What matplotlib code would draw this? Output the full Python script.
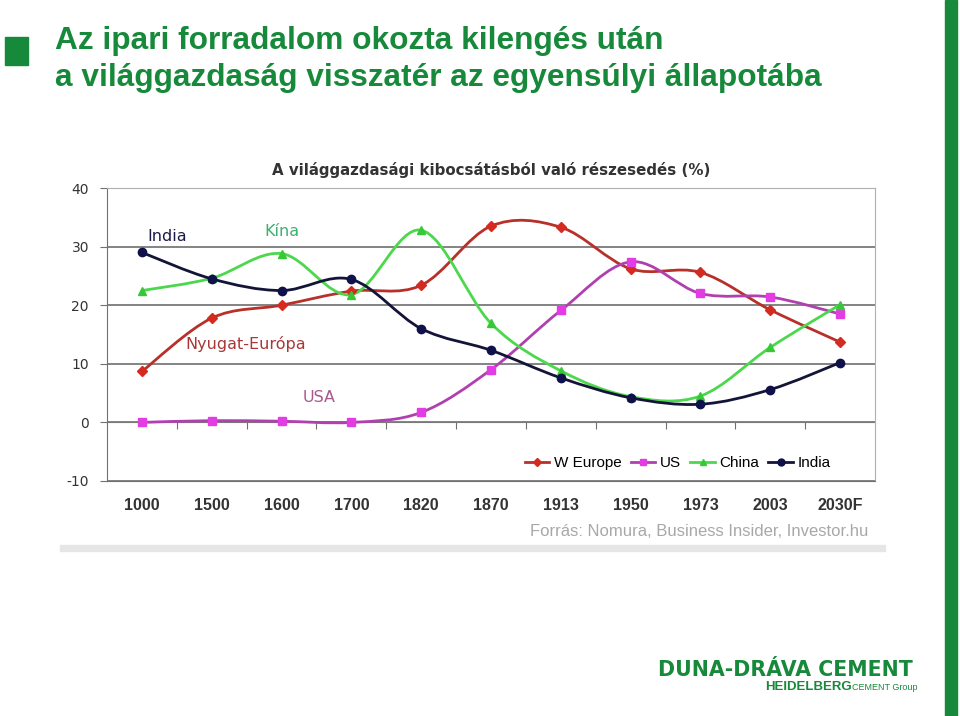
import numpy as np
import matplotlib.pyplot as plt
from matplotlib.path import Path
from matplotlib.patches import PathPatch, Rectangle
from matplotlib.lines import Line2D

plt.rcParams['axes.unicode_minus'] = False

years = ['1000', '1500', '1600', '1700', '1820', '1870', '1913', '1950', '1973', '2003', '2030F']
w_europe = [8.7, 17.8, 20.0, 22.4, 23.4, 33.5, 33.3, 26.2, 25.6, 19.2, 13.7]
us = [0.0, 0.3, 0.2, 0.0, 1.7, 9.0, 19.1, 27.4, 22.0, 21.4, 18.5]
china = [22.5, 24.6, 28.8, 21.8, 32.8, 16.9, 8.8, 4.4, 4.5, 12.8, 20.1]
india = [29.0, 24.5, 22.5, 24.4, 16.0, 12.3, 7.6, 4.2, 3.1, 5.6, 10.2]

series = [
    ('W Europe', w_europe, '#b8302a', '#d42a20', 'D', 5),
    ('US', us, '#b040b0', '#e43ce4', 's', 6),
    ('China', china, '#4cd84c', '#36c836', '^', 6),
    ('India', india, '#141438', '#10104a', 'o', 6),
]

GREEN = '#17893a'
NARROW = ['Liberation Sans Narrow', 'Liberation Sans', 'DejaVu Sans']


def smooth_path(x, y):
    # Excel-style smoothed line: Catmull-Rom segments as cubic Beziers
    pts = np.column_stack([x, y]).astype(float)
    n = len(pts)
    verts = [pts[0]]
    codes = [Path.MOVETO]
    for i in range(n - 1):
        p0 = pts[max(i - 1, 0)]
        p1 = pts[i]
        p2 = pts[i + 1]
        p3 = pts[min(i + 2, n - 1)]
        c1 = p1 + (p2 - p0) / 6
        c2 = p2 - (p3 - p1) / 6
        verts += [c1, c2, p2]
        codes += [Path.CURVE4] * 3
    return Path(verts, codes)


fig = plt.figure(figsize=(9.6, 7.16), dpi=100)

# header
fig.text(55 / 960, 1 - 41 / 716, 'Az ipari forradalom okozta kilengés után',
         fontsize=22.8, fontweight='bold', color=GREEN, va='center', family=NARROW)
fig.text(55 / 960, 1 - 78 / 716, 'a világgazdaság visszatér az egyensúlyi állapotába',
         fontsize=22.8, fontweight='bold', color=GREEN, va='center', family=NARROW)
fig.patches.append(Rectangle((5 / 960, 1 - 65 / 716), 23 / 960, 28 / 716,
                             transform=fig.transFigure, color=GREEN))
fig.patches.append(Rectangle((945 / 960, 0), 12 / 960, 1,
                             transform=fig.transFigure, color=GREEN))
# shadow under the chart picture
fig.patches.append(Rectangle((60 / 960, 1 - 551 / 716), 825 / 960, 6 / 716,
                             transform=fig.transFigure, color='#e6e6e6'))

ax = fig.add_axes([107 / 960, 235 / 716, 768 / 960, 293 / 716])
x = np.arange(len(years))
ax.set_xlim(-0.5, len(years) - 0.5)
ax.set_ylim(-10, 40)
ax.set_yticks([-10, 0, 10, 20, 30, 40])
ax.yaxis.grid(True, color='#7a7a7a', lw=1.3)
ax.set_axisbelow(True)
for s in ['top', 'right']:
    ax.spines[s].set_color('#b0b0b0')
ax.spines['bottom'].set_color('#707070')
ax.spines['left'].set_color('#707070')
ax.tick_params(axis='y', length=5, color='#707070', labelsize=10, labelcolor='#333333', pad=8)
ax.set_xticks(x)
ax.set_xticklabels(years, fontsize=11.5, color='#333333', fontweight='bold', family=NARROW)
ax.tick_params(axis='x', length=0, pad=12)

# category tick marks on the zero line
sec = ax.secondary_xaxis(0.2)
sec.set_xticks(np.arange(len(years) - 1) + 0.5)
sec.set_xticklabels([])
sec.tick_params(length=5, color='#707070')
sec.spines['bottom'].set_color('#707070')

handles = []
for name, vals, lc, mc, mk, ms in series:
    ax.add_patch(PathPatch(smooth_path(x, vals), fill=False, edgecolor=lc, lw=2, zorder=3))
    ax.plot(x, vals, ls='none', marker=mk, ms=ms, color=mc, zorder=4)
    handles.append(Line2D([], [], color=lc, lw=2, marker=mk, ms=ms - 1, mfc=mc, mec=mc, label=name))

ax.legend(handles=handles, loc='lower right', ncol=4, frameon=False,
          handlelength=1.6, handletextpad=0.3, columnspacing=0.6,
          bbox_to_anchor=(0.96, -0.01),
          prop={'family': NARROW, 'size': 11})

ax.text(0.36, 31.7, 'India', color='#1a1a4a', fontsize=11.5, ha='center', va='center')
ax.text(2.0, 32.6, 'Kína', color='#3bb070', fontsize=11.5, ha='center', va='center')
ax.text(1.49, 13.3, 'Nyugat-Európa', color='#a83838', fontsize=11.5, ha='center', va='center')
ax.text(2.54, 4.3, 'USA', color='#a85a8a', fontsize=11.5, ha='center', va='center')

ax.set_title('A világgazdasági kibocsátásból való részesedés (%)', fontsize=10.8,
             fontweight='bold', color='#333333', pad=9)

fig.text(868 / 960, 1 - 531 / 716, 'Forrás: Nomura, Business Insider, Investor.hu',
         fontsize=12, color='#a8a8a8', ha='right', va='center', family=NARROW)

# logo
fig.text(913 / 960, 1 - 670 / 716, 'DUNA-DRÁVA CEMENT', fontsize=14.8, fontweight='bold',
         color=GREEN, ha='right', va='center')
fig.text(852 / 960, 1 - 687 / 716, 'HEIDELBERG', fontsize=9.5, fontweight='bold',
         color=GREEN, ha='right', va='center', family=NARROW)
fig.text(852 / 960, 1 - 687 / 716, 'CEMENT Group', fontsize=6.5, color=GREEN,
         ha='left', va='center', family=NARROW)

fig.savefig('out.png', dpi=100)
